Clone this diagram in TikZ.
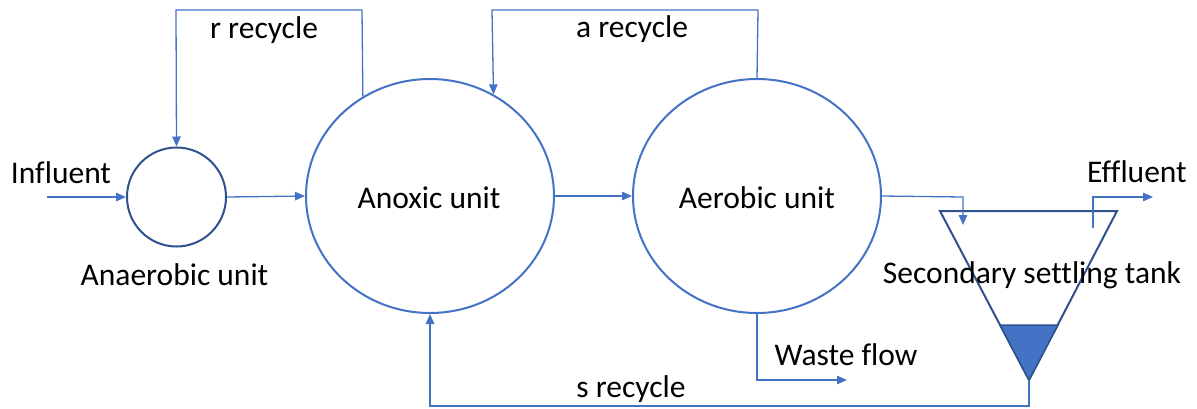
\documentclass[tikz,border=0pt]{standalone}
\usepackage{fontspec}
\setmainfont[Ligatures=NoCommon]{Carlito}
\usetikzlibrary{arrows.meta,shapes.geometric}
\definecolor{lblue}{HTML}{4472C4}
\definecolor{dblue}{HTML}{2F528F}
\begin{document}
\begin{tikzpicture}[x=1pt,y=-1pt,
  flow/.style={draw=lblue,line width=1.3pt,-{Triangle[length=10pt,width=8.5pt]}},
  unit/.style={ellipse,draw=lblue,line width=2pt,inner sep=0pt,minimum width=248pt,minimum height=234pt},
  lbl/.style={font=\fontsize{31.5}{37}\selectfont,inner sep=0pt,anchor=base}]
\useasboundingbox (0,0) rectangle (1197,408);
% units
\node[circle,draw=dblue,line width=2pt,inner sep=0pt,minimum size=99pt] (ana) at (176.5,197) {};
\node[unit] (anox) at (430,196) {};
\node[unit] (aer) at (757,196) {};
\node[lbl,anchor=center] (anoxt) at (429,198) {Anoxic unit};
\node[lbl,anchor=center] (aert) at (757,198) {Aerobic unit};
% tank
\coordinate (tl) at (940,211);
\coordinate (tr) at (1117,211);
\coordinate (tb) at (1029,380);
\coordinate (sl) at (1000,325);
\coordinate (sr) at (1058,325);
\draw[dblue,line width=2pt,line join=miter] (tl) -- (tr) -- (tb) -- cycle;
\fill[lblue] (sl) -- (sr) -- (tb) -- cycle;
\draw[dblue,line width=1.5pt] (sl) -- (sr) -- (tb) -- cycle;
% labels
\node[lbl] (infl) at (61,183) {Influent};
\node[lbl] (rrec) at (264,38) {r recycle};
\node[lbl] (arec) at (632,37) {a recycle};
\node[lbl] (anat) at (174.5,285) {Anaerobic unit};
\node[lbl] (sst) at (1032,283) {Secondary settling tank};
\node[lbl] (effl) at (1137,182) {Effluent};
\node[lbl] (wflt) at (846,365) {Waste flow};
\node[lbl] (srec) at (631,397) {s recycle};
% coordinates
\coordinate (inS) at (47,197);
\coordinate (rTop1) at (362,10);
\coordinate (rTop2) at (176,10);
\coordinate (aTop1) at (758,10);
\coordinate (aTop2) at (492,10);
\coordinate (feedC) at (963,197);
\coordinate (feedE) at (963,225);
\coordinate (effS) at (1093,228);
\coordinate (effC) at (1093,197);
\coordinate (effE) at (1153,197);
\coordinate (sB1) at (1029,406);
\coordinate (sB2) at (430,406);
\coordinate (wB) at (757,380);
\coordinate (wE) at (847,380);
% flows
\draw[flow] (inS) -- (ana.west);
\draw[flow] (ana.east) -- (anox.west);
\draw[flow] (anox.east) -- (aer.west);
\draw[flow] (anox.124.8) -- (rTop1) -- (rTop2) -- (ana.north);
\draw[flow] (aer.north) -- (aTop1) -- (aTop2) -- (anox.58.5);
\draw[flow] (aer.east) -- (feedC) -- (feedE);
\draw[flow] (effS) -- (effC) -- (effE);
\draw[flow] (tb) -- (sB1) -- (sB2) -- (anox.south);
\draw[flow] (aer.south) -- (wB) -- (wE);
\end{tikzpicture}
\end{document}
